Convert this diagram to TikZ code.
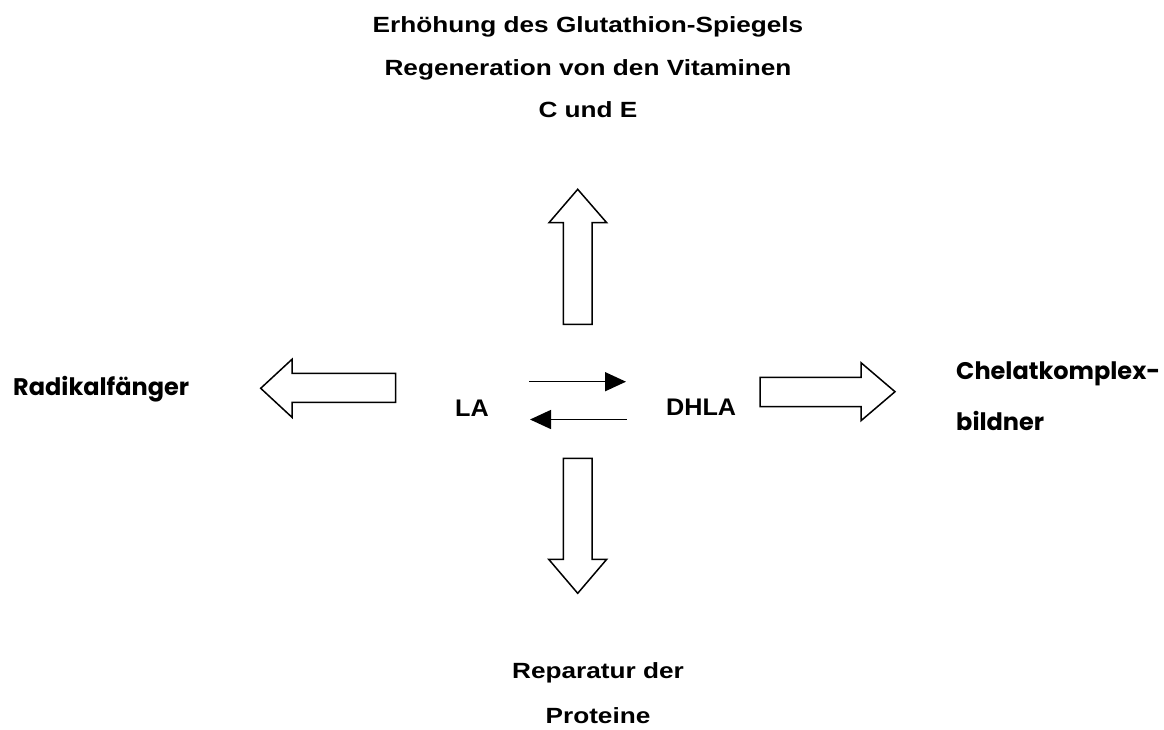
\documentclass[tikz,border=0pt]{standalone}
\usepackage{fontspec}
\setmainfont{Liberation Sans}
\newfontfamily\widefont[FakeStretch=1.19]{Liberation Sans}
\newfontfamily\midfont[FakeStretch=1.05]{Liberation Sans}
\newfontfamily\geofont{Poppins}
\usetikzlibrary{arrows.meta}
\tikzset{
  txt/.style={inner sep=0pt, font=\fontsize{22}{26}\selectfont\widefont\bfseries},
  ctxt/.style={inner sep=0pt, font=\fontsize{24}{28}\selectfont\midfont\bfseries},
  geotxt/.style={inner sep=0pt, font=\fontsize{24}{28}\selectfont\geofont\bfseries},
  blockarrow/.style={draw=black, line width=1.5pt, fill=white, line join=miter},
  reaction/.style={line width=1.5pt, -{Triangle[length=21pt,width=19pt]}}
}
\begin{document}
\begin{tikzpicture}[x=1pt,y=-1pt]
\useasboundingbox (0,0) rectangle (1164,729);
% top texts
\node[txt, anchor=base] (t1) at (588,32.3) {Erhöhung des Glutathion-Spiegels};
\node[txt, anchor=base] (t2) at (588,75.7) {Regeneration von den Vitaminen};
\node[txt, anchor=base] (t3) at (588,117.3) {C und E};
% bottom texts
\node[txt, anchor=base] (b1) at (598,678.3) {Reparatur der};
\node[txt, anchor=base] (b2) at (598,723.3) {Proteine};
% side texts
\node[geotxt, anchor=base west] (rad) at (13,395) {Radikalfänger};
\node[geotxt, anchor=base west] (che1) at (956,379) {Chelatkomplex-};
\node[geotxt, anchor=base west] (che2) at (956,430) {bildner};
% center
\node[ctxt, anchor=base west] (la) at (455,416) {LA};
\node[ctxt, anchor=base west] (dhla) at (666,415) {DHLA};
% block arrows
\draw[blockarrow] (563.3,324.3) -- (563.3,222.7) -- (549,222.7) -- (577.7,189.3) -- (606.7,222.7) -- (592,222.7) -- (592,324.3) -- cycle;
\draw[blockarrow] (563.3,458.3) -- (563.3,559.3) -- (548.7,559.3) -- (577.7,593.3) -- (606.7,559.3) -- (592,559.3) -- (592,458.3) -- cycle;
\draw[blockarrow] (395.7,373.3) -- (292,373.3) -- (292,359.3) -- (260.7,388.3) -- (292,417.3) -- (292,402.3) -- (395.7,402.3) -- cycle;
\draw[blockarrow] (760,377.3) -- (861,377.3) -- (861,362.7) -- (895,391.7) -- (861,420.7) -- (861,406.7) -- (760,406.7) -- cycle;
% reaction arrows
\coordinate (f1) at (529,381.7);
\coordinate (f2) at (626,381.7);
\coordinate (r1) at (626.5,419.5);
\coordinate (r2) at (530,419.5);
\draw[reaction] (f1) -- (f2);
\draw[reaction] (r1) -- (r2);
\end{tikzpicture}
\end{document}
